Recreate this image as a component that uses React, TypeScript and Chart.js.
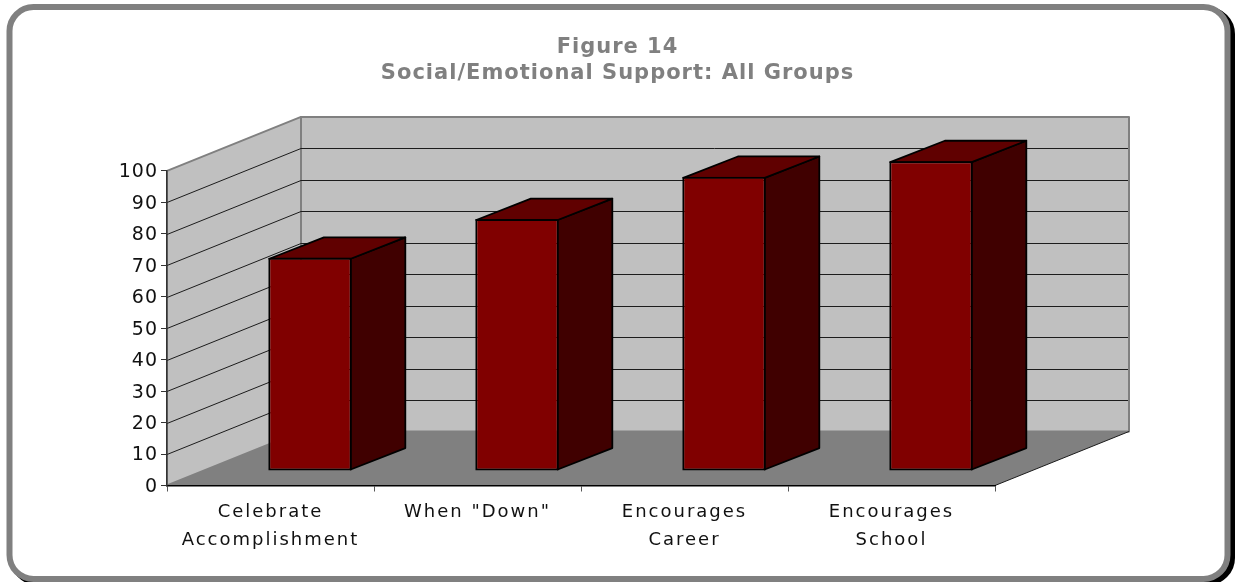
import React, { useEffect, useRef } from "react";
import { Chart, registerables } from "chart.js";

Chart.register(...registerables);

const categories = [
  ["Celebrate", "Accomplishment"],
  ['When "Down"'],
  ["Encourages", "Career"],
  ["Encourages", "School"],
];
const supportValues = [67.8, 80.1, 93.5, 98.5];
const titleLines = ["Figure 14", "Social/Emotional Support: All Groups"];

const FONT = '"DejaVu Sans", Verdana, sans-serif';
const WALL_DX = 134;
const WALL_DY = -54;
const BAR_DX = 39.5;
const BAR_DY = -14.5;
const BAR_DEPTH_X = 54.6;
const BAR_DEPTH_Y = -21.4;

function poly(ctx: CanvasRenderingContext2D, pts: number[][], fill?: string, stroke?: string, lw = 1) {
  ctx.beginPath();
  pts.forEach(([x, y], i) => (i ? ctx.lineTo(x, y) : ctx.moveTo(x, y)));
  ctx.closePath();
  if (fill) {
    ctx.fillStyle = fill;
    ctx.fill();
  }
  if (stroke) {
    ctx.strokeStyle = stroke;
    ctx.lineWidth = lw;
    ctx.lineJoin = "round";
    ctx.stroke();
  }
}

// Rounded card behind the chart, with a hard black drop edge.
const framePlugin = {
  id: "frame",
  beforeDraw(chart: any) {
    const ctx: CanvasRenderingContext2D = chart.ctx;
    (ctx as any).letterSpacing = "1px";
    ctx.save();
    ctx.fillStyle = "#ffffff";
    ctx.fillRect(0, 0, chart.width, chart.height);
    ctx.beginPath();
    ctx.roundRect(13, 10, 1219, 572, 24);
    ctx.lineWidth = 6;
    ctx.strokeStyle = "#000000";
    ctx.stroke();
    ctx.beginPath();
    ctx.roundRect(9.5, 7, 1218, 572, 24);
    ctx.fillStyle = "#ffffff";
    ctx.fill();
    ctx.strokeStyle = "#808080";
    ctx.stroke();
    ctx.restore();
  },
};

// Back wall, side wall, floor and their gridlines, projected from the value scale.
const wallsPlugin = {
  id: "walls",
  beforeDatasetsDraw(chart: any) {
    const ctx: CanvasRenderingContext2D = chart.ctx;
    const { x, y } = chart.scales;
    const l = x.left;
    const r = x.right;
    const y0 = y.getPixelForValue(0);
    const y100 = y.getPixelForValue(100);
    ctx.save();
    poly(ctx, [[l + WALL_DX, y100 + WALL_DY], [r + WALL_DX, y100 + WALL_DY], [r + WALL_DX, y0 + WALL_DY], [l + WALL_DX, y0 + WALL_DY]], "#c0c0c0", "#808080", 2);
    poly(ctx, [[l, y100], [l + WALL_DX, y100 + WALL_DY], [l + WALL_DX, y0 + WALL_DY], [l, y0]], "#c0c0c0", "#808080", 2);
    poly(ctx, [[l, y0], [l + WALL_DX, y0 + WALL_DY], [r + WALL_DX, y0 + WALL_DY], [r, y0]], "#808080");
    ctx.strokeStyle = "#1c1c1c";
    ctx.lineWidth = 1;
    for (let v = 10; v < 100; v += 10) {
      const py = Math.round(y.getPixelForValue(v)) + 0.5;
      ctx.beginPath();
      ctx.moveTo(l, py);
      ctx.lineTo(l + WALL_DX, py + WALL_DY);
      ctx.lineTo(r + WALL_DX - 1, py + WALL_DY);
      ctx.stroke();
    }
    ctx.beginPath();
    ctx.moveTo(r, y0);
    ctx.lineTo(r + WALL_DX, y0 + WALL_DY);
    ctx.stroke();
    ctx.restore();
  },
  // Category labels are drawn after the bars and use a wider tracking.
  afterDatasetsDraw(chart: any) {
    chart.ctx.letterSpacing = "2px";
  },
};

// Shifts the bars onto their row in depth and adds the top and side faces.
const barDepthPlugin = {
  id: "barDepth",
  beforeDatasetDraw(chart: any, args: any) {
    const ctx: CanvasRenderingContext2D = chart.ctx;
    ctx.save();
    ctx.translate(BAR_DX, BAR_DY);
    for (const bar of args.meta.data) {
      const p = bar.getProps(["x", "y", "base", "width"], true);
      const a = p.x - p.width / 2 + 1;
      const b = p.x + p.width / 2 - 1;
      const top = p.y + 1;
      const base = p.base - 1;
      poly(ctx, [[b, top], [b + BAR_DEPTH_X, top + BAR_DEPTH_Y], [b + BAR_DEPTH_X, base + BAR_DEPTH_Y], [b, base]], "#400000", "#000000", 1.8);
      poly(ctx, [[a, top], [a + BAR_DEPTH_X, top + BAR_DEPTH_Y], [b + BAR_DEPTH_X, top + BAR_DEPTH_Y], [b, top]], "#600000", "#000000", 1.8);
    }
  },
  afterDatasetDraw(chart: any) {
    chart.ctx.restore();
  },
};

export default function App() {
  const ref = useRef<HTMLCanvasElement | null>(null);

  useEffect(() => {
    const chart = new Chart(ref.current!, {
      type: "bar",
      data: {
        labels: categories,
        datasets: [
          {
            label: "Support",
            data: supportValues,
            backgroundColor: "#800000",
            borderColor: "#000000",
            borderWidth: 2,
            borderSkipped: false,
            categoryPercentage: 1,
            barPercentage: 0.403,
            clip: false,
          },
        ],
      },
      options: {
        responsive: false,
        animation: false,
        layout: { autoPadding: false, padding: 0 },
        plugins: {
          legend: { display: false },
          tooltip: { enabled: false },
          title: {
            display: true,
            text: titleLines,
            color: "#808080",
            align: "center",
            font: { family: FONT, size: 21, weight: "bold", lineHeight: 1.26 },
            padding: { top: 34, bottom: 84 },
          },
        },
        scales: {
          x: {
            offset: true,
            afterFit: (s: any) => {
              s.height = 96.5;
            },
            border: { display: true, color: "#000000", width: 1.5, z: 1 },
            grid: { display: true, offset: true, drawOnChartArea: false, drawTicks: true, tickLength: 6, color: "#555555", z: 1 },
            ticks: {
              autoSkip: false,
              maxRotation: 0,
              minRotation: 0,
              color: "#111111",
              padding: 7,
              z: 1,
              font: { family: FONT, size: 18, lineHeight: 1.55 },
            },
          },
          y: {
            min: 0,
            max: 100,
            afterFit: (s: any) => {
              s.width = 167;
            },
            border: { display: true, color: "#333333", width: 1.5, z: 1 },
            grid: { drawOnChartArea: false, drawTicks: true, tickLength: 6, color: "#333333", z: 1 },
            ticks: {
              stepSize: 10,
              color: "#111111",
              padding: 3,
              labelOffset: 1.5,
              font: { family: FONT, size: 19 },
            },
          },
          // Empty right-hand gutter that leaves room for the receding floor and walls.
          depthGutter: {
            position: "right",
            min: 0,
            max: 100,
            afterFit: (s: any) => {
              s.width = 240;
            },
            border: { display: false },
            grid: { display: false, drawTicks: false },
            ticks: { display: false },
          },
        },
      },
      plugins: [framePlugin, wallsPlugin, barDepthPlugin],
    } as any);
    return () => chart.destroy();
  }, []);

  return (
    <div style={{ position: "fixed", left: 0, top: 0, width: 1235, height: 582, overflow: "hidden" }}>
      <canvas ref={ref} width={1235} height={582} style={{ display: "block" }} />
    </div>
  );
}
